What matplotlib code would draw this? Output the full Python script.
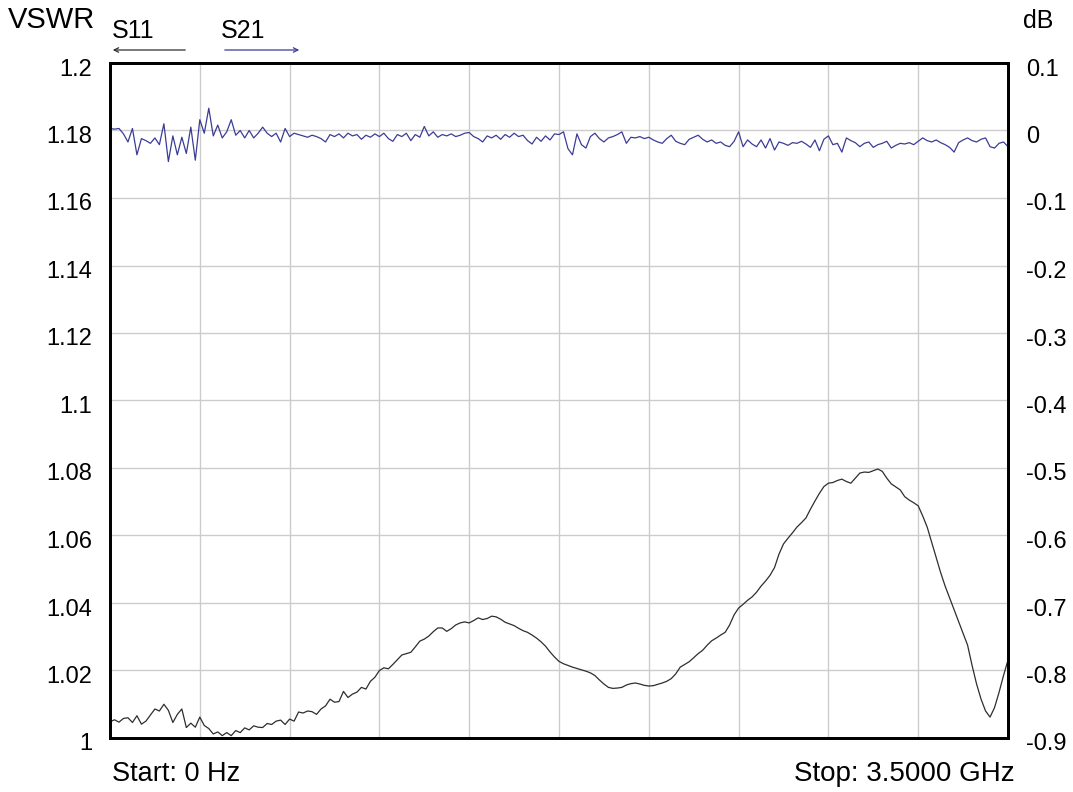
import numpy as np
import matplotlib
matplotlib.use("Agg")
import matplotlib.pyplot as plt
from matplotlib.transforms import ScaledTranslation

plt.rcParams['font.family'] = ['Liberation Sans', 'DejaVu Sans']

# sweep 0 .. 3.5 GHz, 201 points
start_ghz = 0.0
stop_ghz = 3.5
freq = np.linspace(start_ghz, stop_ghz, 201)

# S11 as VSWR (left axis)
s11_vswr = [
    1.0048, 1.0054, 1.0047, 1.0058, 1.0060, 1.0046, 1.0066, 1.0041, 1.0050, 1.0068,
    1.0086, 1.0080, 1.0100, 1.0082, 1.0046, 1.0070, 1.0086, 1.0031, 1.0044, 1.0032,
    1.0062, 1.0037, 1.0028, 1.0012, 1.0018, 1.0007, 1.0016, 1.0007, 1.0022, 1.0016,
    1.0030, 1.0024, 1.0036, 1.0032, 1.0031, 1.0043, 1.0040, 1.0050, 1.0053, 1.0040,
    1.0056, 1.0050, 1.0077, 1.0074, 1.0080, 1.0078, 1.0070, 1.0086, 1.0095, 1.0115,
    1.0106, 1.0108, 1.0138, 1.0120, 1.0130, 1.0136, 1.0150, 1.0145, 1.0168, 1.0180,
    1.0200, 1.0208, 1.0205, 1.0218, 1.0232, 1.0246, 1.0250, 1.0254, 1.0270, 1.0287,
    1.0293, 1.0302, 1.0315, 1.0326, 1.0326, 1.0316, 1.0324, 1.0335, 1.0341, 1.0344,
    1.0341, 1.0348, 1.0356, 1.0351, 1.0354, 1.0361, 1.0359, 1.0352, 1.0343, 1.0338,
    1.0333, 1.0325, 1.0318, 1.0313, 1.0305, 1.0296, 1.0285, 1.0272, 1.0255, 1.0240,
    1.0227, 1.0220, 1.0215, 1.0210, 1.0206, 1.0202, 1.0198, 1.0193, 1.0185, 1.0172,
    1.0160, 1.0150, 1.0147, 1.0148, 1.0150, 1.0157, 1.0161, 1.0163, 1.0160, 1.0156,
    1.0154, 1.0155, 1.0159, 1.0163, 1.0168, 1.0176, 1.0190, 1.0210, 1.0218, 1.0226,
    1.0238, 1.0250, 1.0260, 1.0275, 1.0288, 1.0296, 1.0305, 1.0313, 1.0335, 1.0365,
    1.0385, 1.0396, 1.0408, 1.0418, 1.0432, 1.0450, 1.0465, 1.0482, 1.0505, 1.0545,
    1.0575, 1.0592, 1.0608, 1.0625, 1.0638, 1.0652, 1.0678, 1.0702, 1.0725, 1.0745,
    1.0755, 1.0757, 1.0763, 1.0767, 1.0760, 1.0755, 1.0770, 1.0785, 1.0788, 1.0787,
    1.0792, 1.0797, 1.0790, 1.0770, 1.0753, 1.0744, 1.0735, 1.0715, 1.0705, 1.0697,
    1.0688, 1.0658, 1.0625, 1.0580, 1.0535, 1.0490, 1.0450, 1.0415, 1.0380, 1.0345,
    1.0310, 1.0275, 1.0215, 1.0160, 1.0115, 1.0080, 1.0062, 1.0090, 1.0135, 1.0185,
    1.0231,
]

# S21 in dB (right axis)
s21_db = [
    0.003, 0.002, 0.003, -0.005, -0.017, 0.003, -0.036, -0.012, -0.015, -0.019,
    -0.011, -0.021, 0.010, -0.046, -0.008, -0.036, -0.010, -0.034, 0.005, -0.044,
    0.016, -0.004, 0.033, -0.008, 0.008, -0.011, -0.002, 0.016, -0.007, 0.000,
    -0.011, 0.000, -0.011, -0.004, 0.005, -0.004, -0.009, -0.004, -0.017, 0.003,
    -0.009, -0.004, -0.006, -0.008, -0.010, -0.007, -0.009, -0.012, -0.017, -0.006,
    -0.009, -0.005, -0.011, -0.004, -0.008, -0.006, -0.013, -0.007, -0.010, -0.005,
    -0.009, -0.004, -0.012, -0.016, -0.006, -0.009, -0.004, -0.015, -0.006, -0.010,
    0.006, -0.008, -0.002, -0.010, -0.006, -0.008, -0.005, -0.009, -0.007, -0.004,
    -0.003, -0.009, -0.012, -0.017, -0.008, -0.011, -0.007, -0.013, -0.006, -0.010,
    -0.004, -0.009, -0.007, -0.015, -0.020, -0.010, -0.016, -0.008, -0.014, -0.005,
    -0.006, -0.002, -0.027, -0.036, -0.005, -0.021, -0.026, -0.009, -0.004, -0.012,
    -0.017, -0.011, -0.009, -0.006, -0.002, -0.019, -0.010, -0.011, -0.009, -0.012,
    -0.010, -0.014, -0.017, -0.019, -0.012, -0.007, -0.016, -0.019, -0.021, -0.013,
    -0.010, -0.007, -0.013, -0.017, -0.014, -0.019, -0.017, -0.022, -0.024, -0.016,
    -0.002, -0.024, -0.014, -0.020, -0.024, -0.014, -0.026, -0.012, -0.029, -0.017,
    -0.019, -0.022, -0.018, -0.019, -0.016, -0.020, -0.025, -0.014, -0.030, -0.013,
    -0.008, -0.021, -0.019, -0.032, -0.011, -0.015, -0.018, -0.024, -0.019, -0.017,
    -0.025, -0.021, -0.019, -0.016, -0.026, -0.022, -0.019, -0.020, -0.018, -0.021,
    -0.016, -0.011, -0.015, -0.017, -0.014, -0.018, -0.021, -0.025, -0.032, -0.018,
    -0.014, -0.011, -0.015, -0.017, -0.013, -0.011, -0.024, -0.026, -0.019, -0.017,
    -0.024,
]

vswr_ticks = [1.0, 1.02, 1.04, 1.06, 1.08, 1.1, 1.12, 1.14, 1.16, 1.18, 1.2]
vswr_labels = ["1", "1.02", "1.04", "1.06", "1.08", "1.1", "1.12", "1.14", "1.16", "1.18", "1.2"]
db_ticks = [-0.9, -0.8, -0.7, -0.6, -0.5, -0.4, -0.3, -0.2, -0.1, 0.0, 0.1]
db_labels = ["-0.9", "-0.8", "-0.7", "-0.6", "-0.5", "-0.4", "-0.3", "-0.2", "-0.1", "0", "0.1"]

W, H = 1073, 792
fig = plt.figure(figsize=(W / 100, H / 100), dpi=100)
fig.patch.set_facecolor("white")

# plot box in pixels: x 110..1008, y 63..738
ax = fig.add_axes([110 / W, (H - 738) / H, (1008 - 110) / W, (738 - 63) / H])
ax2 = ax.twinx()

s11_col = "#2e2e2e"
s21_col = "#3c3c96"
grid_col = "#cccccc"

ax.set_xlim(start_ghz, stop_ghz)
ax.set_ylim(1.0, 1.2)
ax2.set_ylim(-0.9, 0.1)

ax.set_xticks(np.linspace(start_ghz, stop_ghz, 11))
ax.set_xticklabels([])
ax.set_yticks(vswr_ticks)
ax.set_yticklabels(vswr_labels)
ax2.set_yticks(db_ticks)
ax2.set_yticklabels(db_labels)

ax.grid(True, color=grid_col, linewidth=1.0)
ax.set_axisbelow(True)
ax.tick_params(axis="both", length=0, labelsize=17, pad=13)
ax2.tick_params(axis="y", length=0, labelsize=17, pad=13)

# labels sit a little below their grid line in the original
shift = ScaledTranslation(0, -4 / 100, fig.dpi_scale_trans)
for lab in ax.get_yticklabels() + ax2.get_yticklabels():
    lab.set_transform(lab.get_transform() + shift)

for a in (ax, ax2):
    for s in a.spines.values():
        s.set_linewidth(2.0)
        s.set_color("black")

ax.plot(freq, s11_vswr, color=s11_col, linewidth=0.9)
ax2.plot(freq, s21_db, color=s21_col, linewidth=0.9)

def px(x, y):
    return x / W, 1 - y / H

fig.text(*px(8, 20), "VSWR", fontsize=21, va="center", ha="left")
fig.text(*px(1053, 21), "dB", fontsize=18, va="center", ha="right")
fig.text(*px(112, 31), "S11", fontsize=18, va="center", ha="left")
fig.text(*px(221, 31), "S21", fontsize=18, va="center", ha="left")
fig.text(*px(112, 774), "Start: 0 Hz", fontsize=19.5, va="center", ha="left")
fig.text(*px(1015, 774), "Stop: 3.5000 GHz", fontsize=20, va="center", ha="right")

ax.annotate("", xy=px(110, 50), xytext=px(188, 50), xycoords="figure fraction",
            textcoords="figure fraction",
            arrowprops=dict(arrowstyle="->", color=s11_col, lw=0.9, mutation_scale=8))
ax.annotate("", xy=px(302, 50), xytext=px(222, 50), xycoords="figure fraction",
            textcoords="figure fraction",
            arrowprops=dict(arrowstyle="->", color=s21_col, lw=0.9, mutation_scale=8))

fig.savefig("out.png", dpi=100, facecolor="white")
